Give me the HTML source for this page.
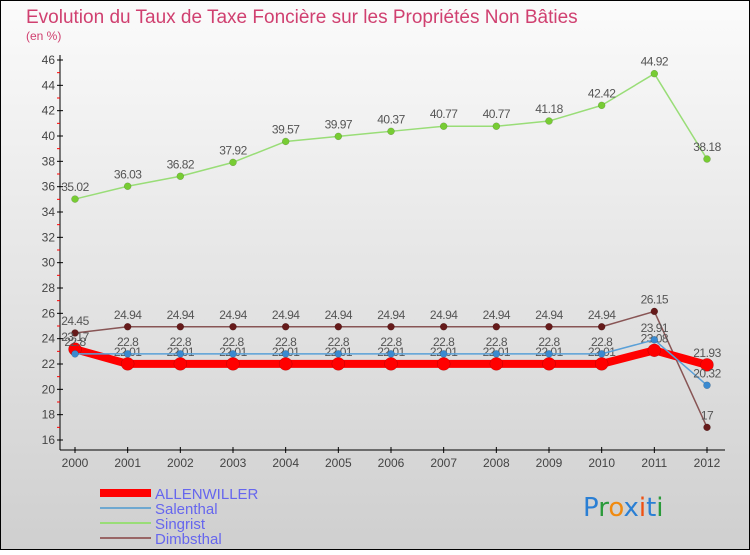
<!DOCTYPE html>
<html><head><meta charset="utf-8"><style>
html,body{margin:0;padding:0}
body{width:750px;height:550px;overflow:hidden;font-family:"Liberation Sans",sans-serif}
</style></head><body>
<svg width="750" height="550" xmlns="http://www.w3.org/2000/svg">
<defs><linearGradient id="bg" x1="0" y1="0" x2="0" y2="1"><stop offset="0" stop-color="#fbfbfb"/><stop offset="1" stop-color="#cfcfcf"/></linearGradient></defs>
<rect x="0.5" y="0.5" width="749" height="549" fill="url(#bg)" stroke="#000"/>
<text x="26" y="23" font-size="19" fill="#d04070">Evolution du Taux de Taxe Foncière sur les Propriétés Non Bâties</text>
<text x="26" y="40" font-size="12" fill="#d04070">(en %)</text>
<g id="axes"></g>
<g id="series"></g>
<g>
<rect x="100" y="489" width="51" height="8" fill="#f00"/>
<text x="155" y="499" font-size="15" fill="#6666ee">ALLENWILLER</text>
<line x1="100" y1="508" x2="151" y2="508" stroke="#6fa8d0" stroke-width="2"/>
<text x="155" y="514" font-size="15" fill="#6666ee">Salenthal</text>
<line x1="100" y1="523" x2="151" y2="523" stroke="#99dd77" stroke-width="2"/>
<text x="155" y="529" font-size="15" fill="#6666ee">Singrist</text>
<line x1="100" y1="538" x2="151" y2="538" stroke="#996666" stroke-width="2"/>
<text x="155" y="544" font-size="15" fill="#6666ee">Dimbsthal</text>
</g>
<g font-size="26" font-family="'DejaVu Sans',sans-serif">
<text x="583" y="516"><tspan fill="#2a7fd4">P</tspan><tspan fill="#2a9a3a">r</tspan><tspan fill="#f08a10">o</tspan><tspan fill="#2a7fd4">x</tspan><tspan fill="#f05010">i</tspan><tspan fill="#2a7fd4">t</tspan><tspan fill="#2a9a3a">i</tspan></text>
</g>
</svg>
<script>
const years=[2000,2001,2002,2003,2004,2005,2006,2007,2008,2009,2010,2011,2012];
const allenwiller=[23.17,22.01,22.01,22.01,22.01,22.01,22.01,22.01,22.01,22.01,22.01,23.08,21.93];
const salenthal=[22.8,22.8,22.8,22.8,22.8,22.8,22.8,22.8,22.8,22.8,22.8,23.91,20.32];
const singrist=[35.02,36.03,36.82,37.92,39.57,39.97,40.37,40.77,40.77,41.18,42.42,44.92,38.18];
const dimbsthal=[24.45,24.94,24.94,24.94,24.94,24.94,24.94,24.94,24.94,24.94,24.94,26.15,17];
const yTicks=[16,18,20,22,24,26,28,30,32,34,36,38,40,42,44,46];
const NS="http://www.w3.org/2000/svg";
const X=i=>75+i*(707-75)/(years.length-1);
const Y=v=>440-(v-16)*(440-60)/30;
function mk(tag,attrs,parent){const e=document.createElementNS(NS,tag);for(const k in attrs)e.setAttribute(k,attrs[k]);parent.appendChild(e);return e;}
const ax=document.getElementById('axes');
let e=mk('line',{x1:60,y1:55,x2:60,y2:450,stroke:'#000'},ax);


e=mk('line',{x1:60,y1:450,x2:725,y2:450,stroke:'#000'},ax);


yTicks.forEach(t=>{
  mk('line',{x1:57,y1:Y(t),x2:63,y2:Y(t),stroke:'#000'},ax);
  if(t<46) mk('line',{x1:57,y1:Y(t+1),x2:60,y2:Y(t+1),stroke:'#f00'},ax);
  const tx=mk('text',{x:55,y:Y(t)+4,'font-size':12,'text-anchor':'end',fill:'#444'},ax);
  tx.textContent=t;
  
  
});
years.forEach((yr,i)=>{
  mk('line',{x1:X(i),y1:447,x2:X(i),y2:453,stroke:'#000'},ax);
  const tx=mk('text',{x:X(i),y:467,'font-size':12,'text-anchor':'middle',fill:'#444'},ax);
  tx.textContent=yr;
  
  
});
const sg=document.getElementById('series');
function draw(name,vals,color,dot,w,r){
  const g=mk('g',{},sg);
  
  
  const p=mk('polyline',{points:vals.map((v,i)=>X(i)+','+Y(v)).join(' '),fill:'none',stroke:color,'stroke-width':w,'stroke-linejoin':'round'},g);
  
  
  vals.forEach((v,i)=>{
    const c=mk('circle',{cx:X(i),cy:Y(v),r:r,fill:dot,stroke:'rgba(0,0,0,0.25)','stroke-width':0.5},g);
    
    
    const t=mk('text',{x:X(i),y:Y(v)-8,'font-size':12,'text-anchor':'middle',fill:'#555','letter-spacing':'-0.5'},g);
    t.textContent=String(v);
    
    
  });
}
draw('singrist',singrist,'#99dd77','#77cc33',1.5,3.5);
draw('dimbsthal',dimbsthal,'#885555','#661a1a',1.5,3.5);
draw('allenwiller',allenwiller,'#f00','#f00',8,6.5);
draw('salenthal',salenthal,'#5aa0d8','#3a8ad0',1.5,3.5);
</script>
</body></html>
